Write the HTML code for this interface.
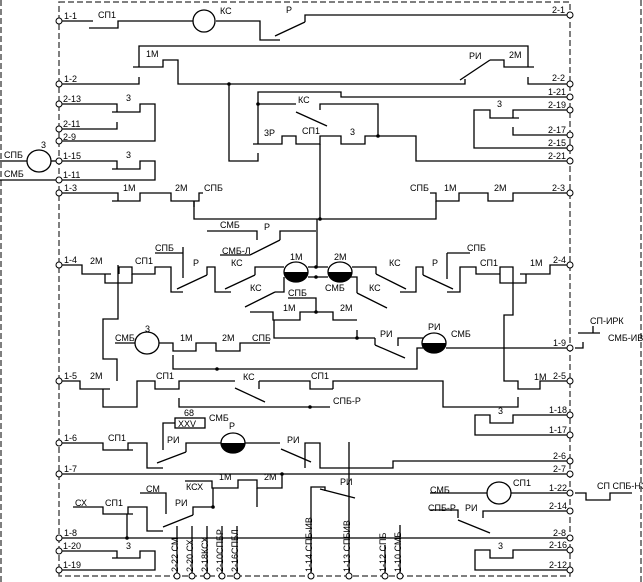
<!DOCTYPE html><html><head><meta charset="utf-8"><style>html,body{margin:0;padding:0;background:#fff}svg{display:block}text{font-family:"Liberation Sans",sans-serif;font-size:9px;fill:#000}</style></head><body>
<svg width="643" height="582" viewBox="0 0 643 582" xmlns="http://www.w3.org/2000/svg">
<g fill="none" stroke="#555" stroke-width="1.5" stroke-dasharray="6,3">
<rect x="59" y="2" width="511" height="574"/>
<line x1="1" y1="0" x2="1" y2="582"/><line x1="641" y1="0" x2="641" y2="582"/>
</g>
<g fill="none" stroke="#000" stroke-width="1.3">
<!-- row 1-1 -->
<polyline points="59,21 93,21"/><polyline points="89,28 118,28 118,21 193,21"/>
<ellipse cx="204" cy="21" rx="11" ry="11"/>
<polyline points="216,21 260,21 260,40 280,40"/><line x1="275" y1="36" x2="305" y2="22"/><polyline points="305,22 305,15 570,15"/>
<!-- row 1-2 -->
<polyline points="59,84 139,84 139,77"/><polyline points="133,67 163,67 163,60 178,60 178,84 465,84 465,79"/>
<line x1="460" y1="80" x2="490" y2="60"/><polyline points="490,60 504,60 504,67 534,67"/>
<polyline points="139,67 139,46 528,46 528,67"/><polyline points="528,77 528,84 570,84"/>
<polyline points="229,84 229,161 258,161 258,153"/>
<polyline points="258,144 258,92 341,92 341,97 570,97"/>
<polyline points="258,104 296,104"/><line x1="296" y1="112" x2="327" y2="126"/>
<polyline points="320,110 320,104 378,104 378,136"/>
<polyline points="253,144 282,144 282,136 296,136 296,144 320,144 320,136 341,136 341,144 365,144 365,136 416,136 416,161 570,161"/>
<polyline points="320,144 320,219"/><polyline points="194,201 194,219 436,219 436,201"/>
<!-- left 2-13.. -->
<polyline points="59,104 117,104 117,112"/><polyline points="112,112 140,112 140,104 155,104 155,141 59,141"/>
<polyline points="59,129 117,129 117,122"/>
<polyline points="59,161 117,161 117,169"/><polyline points="112,169 140,169 140,161 155,161 155,180 0,180"/>
<ellipse cx="39" cy="161" rx="12" ry="11"/><line x1="0" y1="161" x2="27" y2="161"/><line x1="51" y1="161" x2="59" y2="161"/>
<!-- right 2-19 -->
<polyline points="570,110 513,110 513,118"/><polyline points="519,118 490,118 490,110 474,110 474,148 570,148"/>
<polyline points="513,127 513,135 570,135"/>
<!-- row 1-3 / 2-3 -->
<polyline points="59,193 118,193 118,201"/><polyline points="112,201 140,201 140,193 171,193 171,201 199,201 199,193 203,193"/><line x1="194" y1="201" x2="194" y2="207"/>
<polyline points="570,193 513,193 513,201 488,201 488,193 459,193 459,201 436,201 436,193 430,193"/>
<!-- center upper -->
<polyline points="207,231 257,231 257,240"/><polyline points="220,255 250,255"/><line x1="250" y1="255" x2="280" y2="240"/>
<polyline points="280,240 280,231 316,231"/><line x1="317" y1="219" x2="317" y2="267"/>
<!-- row 1-4 -->
<polyline points="59,265 82,265 82,274 111,274"/><polyline points="105,274 105,283 132,283 132,274"/>
<polyline points="118,265 118,319 103,319 103,359 117,359 117,381"/>
<polyline points="119,274 119,267 132,267 132,274 155,274 155,267 171,267 171,292 183,292"/><line x1="177" y1="289" x2="207" y2="275"/>
<polyline points="183,247 183,278"/><polyline points="155,253 183,253"/>
<polyline points="207,275 207,267 215,267 215,292 231,292"/><line x1="225" y1="289" x2="255" y2="275"/>
<polyline points="255,275 255,267 284,267"/>
<ellipse cx="296" cy="272" rx="12" ry="10"/><ellipse cx="340" cy="272" rx="12" ry="10"/>
<polyline points="308,267 328,267"/><polyline points="308,277 328,277"/>
<polyline points="352,267 376,267 376,274"/><line x1="376" y1="274" x2="406" y2="289"/>
<polyline points="400,292 416,292 416,267 423,267 423,275"/><line x1="423" y1="275" x2="453" y2="289"/>
<polyline points="447,292 460,292 460,267 476,267 476,274 500,274"/><polyline points="447,253 447,279"/><polyline points="447,253 470,253"/>
<polyline points="500,274 500,267 513,267 513,315 504,315 504,381 518,381 518,389 540,389 540,381 570,381"/>
<polyline points="500,274 500,283 526,283 526,274"/>
<polyline points="520,274 550,274 550,265 570,265"/>
<!-- KS box -->
<polyline points="284,277 284,292 275,292"/><line x1="275" y1="292" x2="245" y2="307"/>
<polyline points="250,312 273,312 273,320 300,320 300,312 333,312 333,320 357,320"/>
<polyline points="288,298 316,298 316,312"/>
<polyline points="350,277 357,277 357,293"/><line x1="357" y1="293" x2="387" y2="308"/>
<polyline points="274,320 274,338 375,338"/><line x1="357" y1="330" x2="357" y2="338"/>
<line x1="375" y1="345" x2="405" y2="358"/><polyline points="375,338 375,345"/>
<polyline points="398,346 398,338 423,338"/>
<!-- row 1-9 -->
<ellipse cx="147" cy="343" rx="12" ry="11"/><polyline points="115,343 135,343"/>
<polyline points="159,343 173,343 173,351 196,351 196,343 216,343 216,351 240,351 240,343 270,343"/>
<polyline points="173,355 173,369 417,369 417,348 423,348"/>
<ellipse cx="434" cy="343" rx="12" ry="10"/><line x1="446" y1="348" x2="570" y2="348"/>
<polyline points="575,348 583,348 583,342"/><polyline points="578,333 600,333"/><line x1="593" y1="326" x2="593" y2="333"/>
<!-- row 1-5 -->
<polyline points="59,381 80,381 80,389 110,389"/><polyline points="103,389 103,407 137,407 137,381 155,381 155,389 179,389 179,381 235,381"/>
<line x1="235" y1="388" x2="265" y2="402"/><polyline points="259,381 259,389"/><polyline points="259,381 310,381 310,389 333,389"/>
<polyline points="333,389 333,381 443,381 443,407 518,407 518,397"/>
<polyline points="179,398 179,407 330,407"/>
<!-- right 1-18 -->
<polyline points="570,415 513,415 513,423 490,423 490,415 475,415 475,435 570,435"/>
<!-- row 1-6 -->
<polyline points="59,443 103,443 103,450 133,450"/><polyline points="128,450 128,443 147,443 147,468 163,468"/><line x1="157" y1="463" x2="186" y2="452"/>
<polyline points="186,452 186,443 221,443"/><ellipse cx="233" cy="443" rx="12" ry="10"/>
<polyline points="245,443 280,443"/><line x1="281" y1="449" x2="311" y2="462"/>
<polyline points="305,468 305,443 320,443 320,468 393,468 393,461 570,461"/>
<rect x="175" y="418" width="30" height="10"/><polyline points="175,423 163,423 163,450"/>
<!-- row 1-7 -->
<line x1="59" y1="474" x2="570" y2="474"/>
<polyline points="185,481 212,481 212,488 238,488 238,480 257,480 257,488 282,488 282,474"/>
<line x1="213" y1="488" x2="213" y2="507"/><line x1="257" y1="488" x2="257" y2="507"/>
<polyline points="73,507 103,507 103,514 133,514"/><polyline points="128,514 128,507 147,507 147,531 163,531"/><line x1="163" y1="527" x2="193" y2="515"/>
<polyline points="193,515 193,507 213,507"/><polyline points="140,493 166,493 166,514"/>
<line x1="127" y1="514" x2="127" y2="538"/>
<line x1="59" y1="538" x2="570" y2="538"/>
<polyline points="59,551 117,551 117,558"/><polyline points="112,558 140,558 140,551 155,551 155,570 59,570"/>
<line x1="177" y1="526" x2="177" y2="576"/><line x1="192" y1="526" x2="192" y2="576"/><line x1="207" y1="526" x2="207" y2="576"/><line x1="222" y1="526" x2="222" y2="576"/><line x1="237" y1="526" x2="237" y2="576"/>
<polyline points="311,576 311,487 325,487 325,491"/><line x1="320" y1="489" x2="355" y2="498"/>
<line x1="349" y1="442" x2="349" y2="576"/><line x1="385" y1="545" x2="385" y2="576"/><line x1="400" y1="525" x2="400" y2="576"/>
<!-- right lower -->
<polyline points="570,493 511,493"/><ellipse cx="499" cy="493" rx="12" ry="11"/><line x1="487" y1="493" x2="430" y2="493"/>
<polyline points="575,493 586,493 586,500 610,500 610,493 632,493"/>
<polyline points="570,511 483,511 483,518"/><polyline points="430,510 458,510 458,518"/><line x1="458" y1="520" x2="490" y2="533"/>
<polyline points="570,550 513,550 513,558 490,558 490,550 475,550 475,570 570,570"/>
</g>
<g fill="#000">
<path d="M284,272 a12,10 0 0 0 24,0 z"/><path d="M328,272 a12,10 0 0 0 24,0 z"/>
<path d="M422,343 a12,10 0 0 0 24,0 z"/><path d="M221,443 a12,10 0 0 0 24,0 z"/>
<circle cx="229" cy="84" r="1.8"/><circle cx="258" cy="104" r="1.8"/><circle cx="378" cy="136" r="1.8"/><circle cx="320" cy="219" r="1.8"/>
<circle cx="316" cy="267" r="1.8"/><circle cx="316" cy="277" r="1.8"/><circle cx="316" cy="312" r="1.8"/><circle cx="357" cy="338" r="1.8"/>
<circle cx="217" cy="369" r="1.8"/><circle cx="310" cy="407" r="1.8"/><circle cx="282" cy="474" r="1.8"/><circle cx="213" cy="507" r="1.8"/><circle cx="127" cy="538" r="1.8"/>
</g>
<g fill="#fff" stroke="#000" stroke-width="1">
<circle cx="59" cy="21" r="3"/><circle cx="59" cy="84" r="3"/><circle cx="59" cy="104" r="3"/><circle cx="59" cy="129" r="3"/><circle cx="59" cy="141" r="3"/><circle cx="59" cy="161" r="3"/><circle cx="59" cy="180" r="3"/><circle cx="59" cy="193" r="3"/>
<circle cx="59" cy="265" r="3"/><circle cx="59" cy="381" r="3"/><circle cx="59" cy="443" r="3"/><circle cx="59" cy="474" r="3"/><circle cx="59" cy="538" r="3"/><circle cx="59" cy="551" r="3"/><circle cx="59" cy="570" r="3"/>
<circle cx="570" cy="15" r="3"/><circle cx="570" cy="84" r="3"/><circle cx="570" cy="97" r="3"/><circle cx="570" cy="110" r="3"/><circle cx="570" cy="135" r="3"/><circle cx="570" cy="148" r="3"/><circle cx="570" cy="161" r="3"/><circle cx="570" cy="193" r="3"/>
<circle cx="570" cy="265" r="3"/><circle cx="570" cy="348" r="3"/><circle cx="570" cy="381" r="3"/><circle cx="570" cy="415" r="3"/><circle cx="570" cy="435" r="3"/><circle cx="570" cy="461" r="3"/><circle cx="570" cy="474" r="3"/><circle cx="570" cy="493" r="3"/><circle cx="570" cy="511" r="3"/><circle cx="570" cy="538" r="3"/><circle cx="570" cy="550" r="3"/><circle cx="570" cy="570" r="3"/>
<circle cx="177" cy="576" r="3"/><circle cx="192" cy="576" r="3"/><circle cx="207" cy="576" r="3"/><circle cx="222" cy="576" r="3"/><circle cx="237" cy="576" r="3"/><circle cx="311" cy="576" r="3"/><circle cx="349" cy="576" r="3"/><circle cx="385" cy="576" r="3"/><circle cx="400" cy="576" r="3"/>
</g>
<g>
<text x="64" y="19">1-1</text><text x="64" y="82">1-2</text><text x="63" y="102">2-13</text><text x="63" y="127">2-11</text><text x="63" y="140">2-9</text><text x="63" y="159">1-15</text><text x="63" y="178">1-11</text><text x="64" y="191">1-3</text>
<text x="64" y="263">1-4</text><text x="64" y="379">1-5</text><text x="64" y="441">1-6</text><text x="64" y="472">1-7</text><text x="64" y="536">1-8</text><text x="63" y="549">1-20</text><text x="63" y="568">1-19</text>
<text x="552" y="13">2-1</text><text x="552" y="81">2-2</text><text x="548" y="95">1-21</text><text x="548" y="108">2-19</text><text x="548" y="133">2-17</text><text x="548" y="146">2-15</text><text x="548" y="159">2-21</text><text x="552" y="191">2-3</text>
<text x="553" y="263">2-4</text><text x="553" y="346">1-9</text><text x="553" y="379">2-5</text><text x="549" y="413">1-18</text><text x="549" y="433">1-17</text><text x="553" y="459">2-6</text><text x="553" y="472">2-7</text><text x="549" y="491">1-22</text><text x="549" y="509">2-14</text><text x="553" y="536">2-8</text><text x="549" y="548">2-16</text><text x="549" y="568">2-12</text>
<text x="98" y="18">СП1</text><text x="220" y="14">КС</text><text x="286" y="13">Р</text><text x="146" y="57">1М</text><text x="469" y="59">РИ</text><text x="509" y="58">2М</text>
<text x="126" y="101">3</text><text x="126" y="158">3</text><text x="41" y="148">3</text><text x="4" y="158">СПБ</text><text x="4" y="177">СМБ</text>
<text x="298" y="103">КС</text><text x="264" y="136">3Р</text><text x="302" y="134">СП1</text><text x="350" y="135">3</text><text x="497" y="107">3</text>
<text x="123" y="191">1М</text><text x="175" y="191">2М</text><text x="204" y="191">СПБ</text><text x="410" y="191">СПБ</text><text x="444" y="191">1М</text><text x="494" y="191">2М</text>
<text x="220" y="228">СМБ</text><text x="264" y="230">Р</text><text x="222" y="254">СМБ-Л</text>
<text x="90" y="264">2М</text><text x="135" y="264">СП1</text><text x="155" y="251">СПБ</text><text x="193" y="266">Р</text><text x="231" y="266">КС</text><text x="290" y="260">1М</text><text x="334" y="260">2М</text>
<text x="250" y="291">КС</text><text x="325" y="291">СМБ</text><text x="369" y="291">КС</text><text x="288" y="296">СПБ</text><text x="283" y="311">1М</text><text x="340" y="311">2М</text>
<text x="389" y="266">КС</text><text x="432" y="266">Р</text><text x="467" y="251">СПБ</text><text x="480" y="266">СП1</text><text x="530" y="266">1М</text>
<text x="145" y="332">3</text><text x="115" y="341">СМБ</text><text x="180" y="341">1М</text><text x="222" y="341">2М</text><text x="252" y="341">СПБ</text>
<text x="380" y="337">РИ</text><text x="428" y="330">РИ</text><text x="451" y="337">СМБ</text><text x="590" y="324">СП-ИРК</text><text x="608" y="341">СМБ-ИВ</text>
<text x="90" y="379">2М</text><text x="156" y="379">СП1</text><text x="243" y="380">КС</text><text x="311" y="379">СП1</text><text x="534" y="380">1М</text><text x="333" y="404">СПБ-Р</text><text x="498" y="414">3</text>
<text x="184" y="416">68</text><text x="178" y="427">ХХV</text><text x="209" y="421">СМБ</text><text x="229" y="429">Р</text>
<text x="108" y="441">СП1</text><text x="167" y="443">РИ</text><text x="287" y="443">РИ</text><text x="340" y="485">РИ</text>
<text x="186" y="490">КСХ</text><text x="219" y="480">1М</text><text x="264" y="480">2М</text><text x="146" y="492">СМ</text><text x="75" y="506">СХ</text><text x="105" y="506">СП1</text><text x="175" y="506">РИ</text><text x="126" y="549">3</text>
<text x="430" y="493">СМБ</text><text x="513" y="486">СП1</text><text x="597" y="489">СП СПБ-НЗ</text><text x="428" y="511">СПБ-Р</text><text x="465" y="511">РИ</text><text x="498" y="549">3</text>
<g transform="translate(178,572) rotate(-90)"><text>2-22 СМ</text></g>
<g transform="translate(193,572) rotate(-90)"><text>2-20 СХ</text></g>
<g transform="translate(208,572) rotate(-90)"><text>2-18КСХ</text></g>
<g transform="translate(223,572) rotate(-90)"><text>2-10СПБР</text></g>
<g transform="translate(238,572) rotate(-90)"><text>2-16СПБЛ</text></g>
<g transform="translate(312,572) rotate(-90)"><text>1-14 СПБ-ИВ</text></g>
<g transform="translate(350,572) rotate(-90)"><text>1-13 СПБИВ</text></g>
<g transform="translate(386,572) rotate(-90)"><text>1-12 СПБ</text></g>
<g transform="translate(401,572) rotate(-90)"><text>1-10 СМБ</text></g>
</g>
</svg></body></html>
